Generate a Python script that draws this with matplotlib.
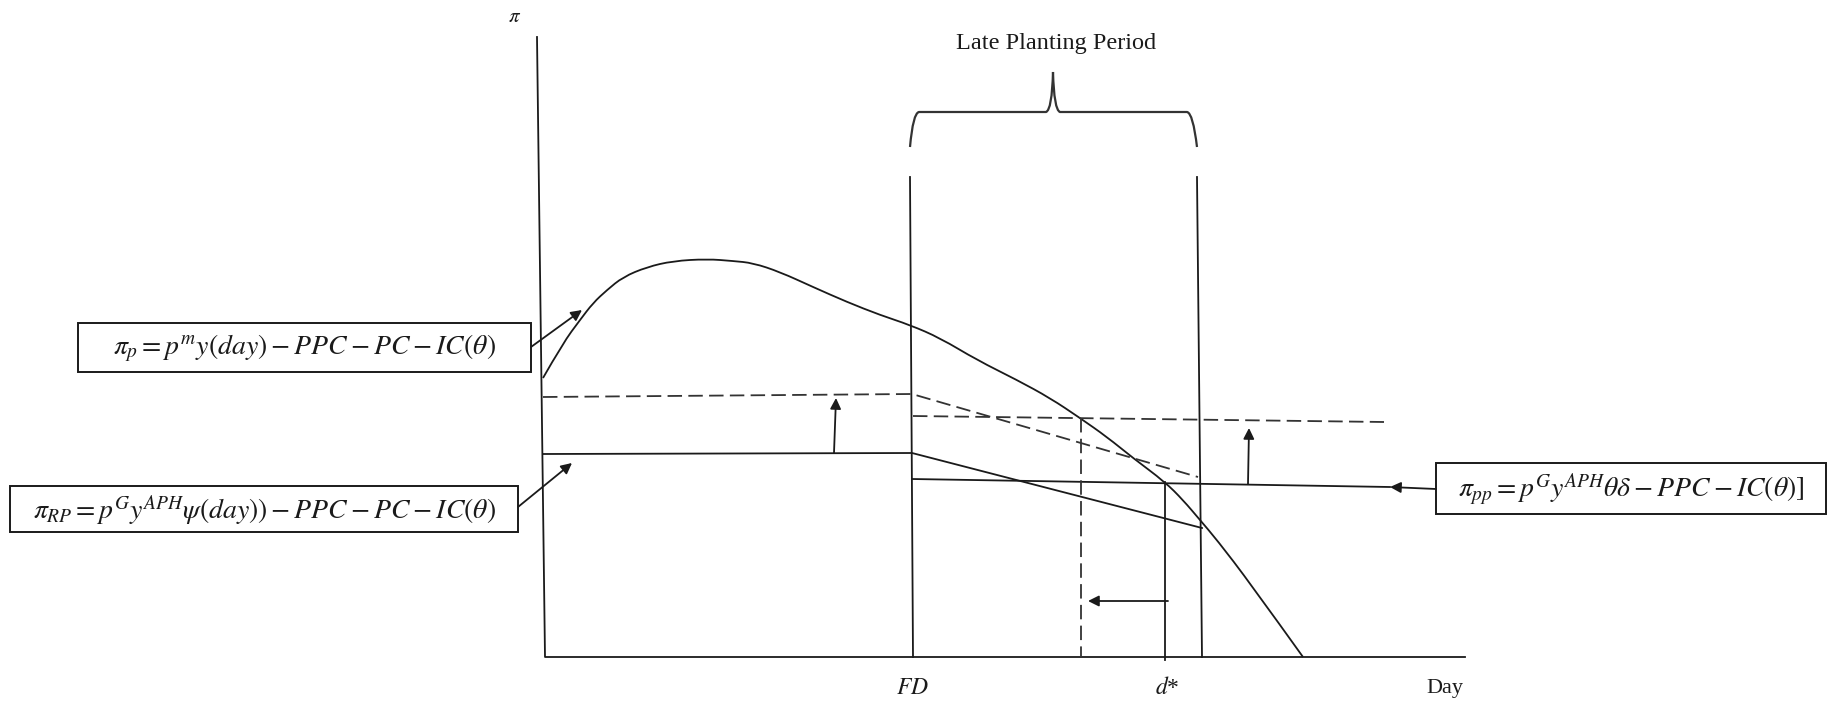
import matplotlib.pyplot as plt
from matplotlib.patches import Rectangle, PathPatch
from matplotlib.path import Path

plt.rcParams['mathtext.fontset'] = 'stix'
plt.rcParams['font.family'] = ['Liberation Serif', 'DejaVu Serif']

# --- diagram geometry (image pixel coords, y grows downward) ---
axis_x = [537, 545, 1465]
axis_y = [37, 657, 657]

# profit curve pi_p
curve_x = [543, 563, 580, 593, 607, 623, 647, 673, 707, 733, 753, 780, 813,
           847, 880, 910, 940, 977, 1017, 1050, 1080, 1107, 1133, 1165, 1183,
           1200, 1217, 1250, 1303]
curve_y = [378, 343, 320, 303, 290, 277, 267, 261, 259, 261, 263, 272, 287,
           302, 315, 325, 338, 360, 380, 398, 418, 437, 458, 482, 500,
           520, 540, 583, 657]

# revenue protection lines (before / after shift)
rp_x = [543, 912, 1202]
rp_y = [454, 453, 528]
rp_dash_x = [543, 912, 1198]
rp_dash_y = [397, 394, 477]

# prevented planting lines
pp_x = [912, 1390]
pp_y = [479, 487]
pp_dash_x = [913, 1384]
pp_dash_y = [416, 422]

# verticals: (x_top, y_top, x_bottom, y_bottom)
fd_line = (910, 177, 913, 657)
late_end = (1197, 177, 1202, 657)
dstar_line = (1165, 482, 1165, 660)
new_d_line = (1081, 418, 1081, 657)

# arrows: (x_from, y_from, x_to, y_to)
arrows = [
    (834, 453, 836, 398),
    (1248, 484, 1249, 428),
    (1168, 601, 1088, 601),
    (531, 347, 582, 310),
    (518, 507, 572, 463),
    (1436, 489, 1390, 487),
]

# formula boxes: (x0, y0, x1, y1, text)
boxes = [
    (78, 323, 531, 372, r'$\pi_p = p^m y(day) - PPC - PC - IC(\theta)$'),
    (10, 486, 518, 532, r'$\pi_{RP} = p^G y^{APH}\psi(day)) - PPC - PC - IC(\theta)$'),
    (1436, 463, 1826, 514, r'$\pi_{pp} = p^G y^{APH}\theta\delta - PPC - IC(\theta)]$'),
]

# brace over late planting period
brace_x = [910, 913, 919, 1046, 1052, 1053, 1054, 1060, 1187, 1193, 1197]
brace_y = [147, 113, 112, 112, 110, 72, 110, 112, 112, 113, 147]

ink = '#1a1a1a'
dash_ink = '#333333'
lw = 1.3

fig = plt.figure(figsize=(18.31, 7.01), dpi=100)
ax = fig.add_axes([0, 0, 1, 1])
ax.set_xlim(0, 1831)
ax.set_ylim(701, 0)
ax.axis('off')

ax.plot(axis_x, axis_y, color=ink, lw=lw)

# smooth the profit curve: quadratic beziers through midpoints,
# the read points act as control points
pts = list(zip(curve_x, curve_y))
verts = [pts[0]]
codes = [Path.MOVETO]
for i in range(1, len(pts) - 1):
    mid = ((pts[i][0] + pts[i + 1][0]) / 2, (pts[i][1] + pts[i + 1][1]) / 2)
    if i == len(pts) - 2:
        mid = pts[-1]
    verts += [pts[i], mid]
    codes += [Path.CURVE3, Path.CURVE3]
ax.add_patch(PathPatch(Path(verts, codes), fill=False, edgecolor=ink, lw=lw))

ax.plot(rp_x, rp_y, color=ink, lw=lw)
ax.plot(pp_x, pp_y, color=ink, lw=lw)
ax.plot(rp_dash_x, rp_dash_y, color=dash_ink, lw=lw, dashes=(8, 3.5))
ax.plot(pp_dash_x, pp_dash_y, color=dash_ink, lw=lw, dashes=(8, 3.5))

for x0, y0, x1, y1 in (fd_line, late_end, dstar_line):
    ax.plot([x0, x1], [y0, y1], color=ink, lw=lw)
x0, y0, x1, y1 = new_d_line
ax.plot([x0, x1], [y0, y1], color=dash_ink, lw=lw, dashes=(8, 3.5))

for x0, y0, x1, y1 in arrows:
    ax.annotate('', xy=(x1, y1), xytext=(x0, y0),
                arrowprops=dict(arrowstyle='-|>', color=ink, lw=lw,
                                mutation_scale=16, shrinkA=0, shrinkB=0))

for x0, y0, x1, y1, txt in boxes:
    ax.add_patch(Rectangle((x0, y0), x1 - x0, y1 - y0, fill=False,
                           edgecolor=ink, lw=1.4))
    ax.text((x0 + x1) / 2, (y0 + y1) / 2 + 1, txt, fontsize=20,
            ha='center', va='center', color=ink)

# brace drawn as quadratic bezier segments
bcodes = [Path.MOVETO, Path.CURVE3, Path.CURVE3, Path.LINETO, Path.CURVE3,
          Path.CURVE3, Path.CURVE3, Path.CURVE3, Path.LINETO, Path.CURVE3,
          Path.CURVE3]
brace = Path(list(zip(brace_x, brace_y)), bcodes)
ax.add_patch(PathPatch(brace, fill=False, edgecolor=dash_ink, lw=1.6))

ax.text(1056, 43, 'Late Planting Period', fontsize=17.5, ha='center',
        va='center', color=ink)
ax.text(515, 17, r'$\pi$', fontsize=15, ha='center', va='center', color=ink)
ax.text(912, 688, r'$FD$', fontsize=17, ha='center', va='center', color=ink)
ax.text(1167, 688, r'$d$*', fontsize=17, ha='center', va='center', color=ink)
ax.text(1445, 688, 'Day', fontsize=16, ha='center', va='center', color=ink)

fig.savefig('out.png', dpi=100, facecolor='white')
